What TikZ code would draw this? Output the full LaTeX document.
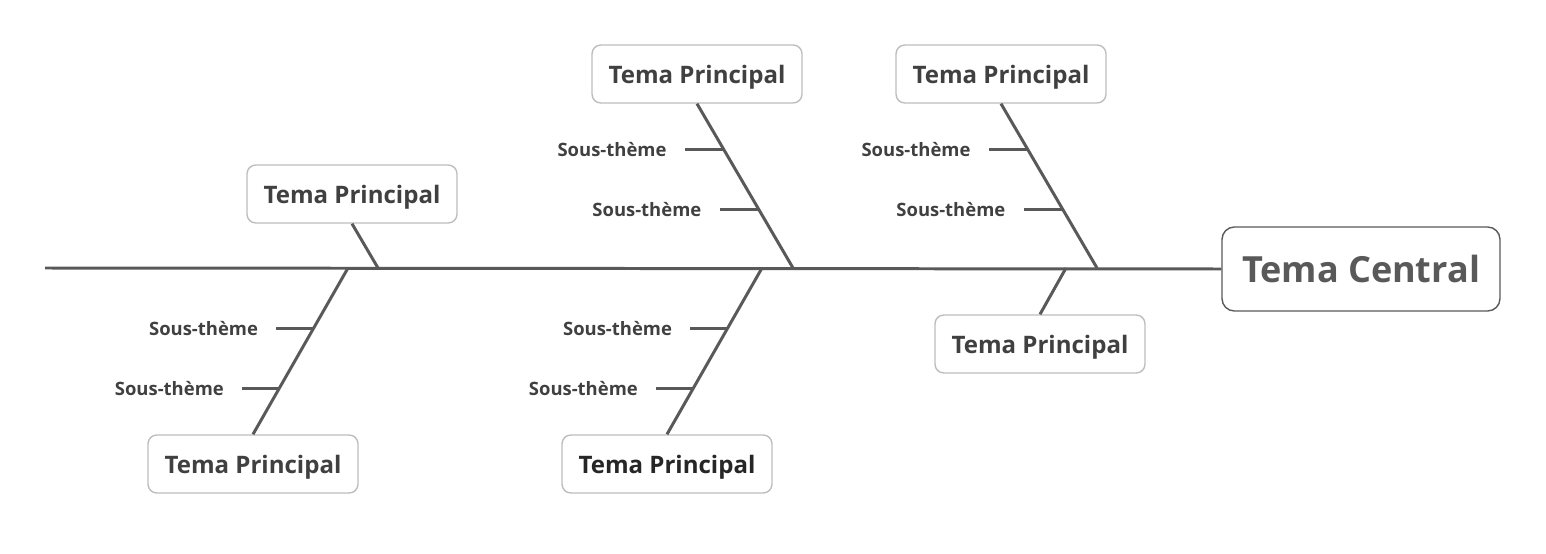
\documentclass[tikz,border=0pt]{standalone}
\usepackage{fontspec}
\setmainfont{Open Sans}
\usetikzlibrary{positioning, calc}
\definecolor{boneline}{HTML}{595959}
\definecolor{boxline}{HTML}{BDBDBD}
\definecolor{txt}{HTML}{404040}

\begin{document}
\begin{tikzpicture}[x=0.02cm, y=-0.02cm,
    bone/.style={line width=1.7pt, boneline},
    theme/.style={rectangle, draw=boxline, line width=0.8pt, fill=white, rounded corners=5pt,
                  minimum width=4.2cm, minimum height=1.16cm, inner sep=0pt, text depth=0pt,
                  font=\fontsize{13.7}{16}\selectfont\bfseries, text=txt},
    central/.style={theme, draw=boneline, rounded corners=7pt, minimum width=5.56cm,
                    minimum height=1.68cm, font=\fontsize{20.5}{24}\selectfont\bfseries, text=boneline},
    sub/.style={font=\fontsize{10.5}{12}\selectfont\bfseries, text=txt, inner sep=0pt},
]
    \useasboundingbox (0,0) rectangle (1546,554);

    % head and spine
    \node[central] (head) at (1361,269) {Tema Central};
    \coordinate (tail) at (45,268);
    \draw[bone] (tail) -- (head.west);

    % main themes
    \node[theme] (t1) at (697,74) {Tema Principal};
    \node[theme] (t2) at (1001,74) {Tema Principal};
    \node[theme] (t3) at (352,194) {Tema Principal};
    \node[theme] (t4) at (253,464) {Tema Principal};
    \node[theme, text=black!85] (t5) at (667,464) {Tema Principal};
    \node[theme] (t6) at (1040,344) {Tema Principal};

    % joints on the spine
    \coordinate (j1) at (793,268);
    \coordinate (j2) at (1097,268);
    \coordinate (j3) at (378,268);
    \coordinate (j4) at (348,268);
    \coordinate (j5) at (762,268);
    \coordinate (j6) at (1066,268);

    \draw[bone] (t1.south) -- (j1);
    \draw[bone] (t2.south) -- (j2);
    \draw[bone] (t3.south) -- (j3);
    \draw[bone] (t4.north) -- (j4);
    \draw[bone] (t5.north) -- (j5);
    \draw[bone] (t6.north) -- (j6);

    % points on the bones
    \path (t1.south) -- (j1) coordinate[pos=0.279] (b1a) coordinate[pos=0.642] (b1b);
    \path (t2.south) -- (j2) coordinate[pos=0.279] (b2a) coordinate[pos=0.642] (b2b);
    \path (j4) -- (t4.north) coordinate[pos=0.365] (b4a) coordinate[pos=0.725] (b4b);
    \path (j5) -- (t5.north) coordinate[pos=0.365] (b5a) coordinate[pos=0.725] (b5b);

    % sub themes
    \node[sub, anchor=east] (s1a) at ($(b1a)+(-57,0)$) {Sous-thème};
    \node[sub, anchor=east] (s1b) at ($(b1b)+(-57,0)$) {Sous-thème};
    \node[sub, anchor=east] (s2a) at ($(b2a)+(-57,0)$) {Sous-thème};
    \node[sub, anchor=east] (s2b) at ($(b2b)+(-57,0)$) {Sous-thème};
    \node[sub, anchor=east] (s4a) at ($(b4a)+(-55,0)$) {Sous-thème};
    \node[sub, anchor=east] (s4b) at ($(b4b)+(-55,0)$) {Sous-thème};
    \node[sub, anchor=east] (s5a) at ($(b5a)+(-55,0)$) {Sous-thème};
    \node[sub, anchor=east] (s5b) at ($(b5b)+(-55,0)$) {Sous-thème};

    \foreach \s/\b in {s1a/b1a, s1b/b1b, s2a/b2a, s2b/b2b, s4a/b4a, s4b/b4b, s5a/b5a, s5b/b5b}
        \draw[bone] ([xshift=0.36cm]\s.east) -- (\b);
\end{tikzpicture}
\end{document}
